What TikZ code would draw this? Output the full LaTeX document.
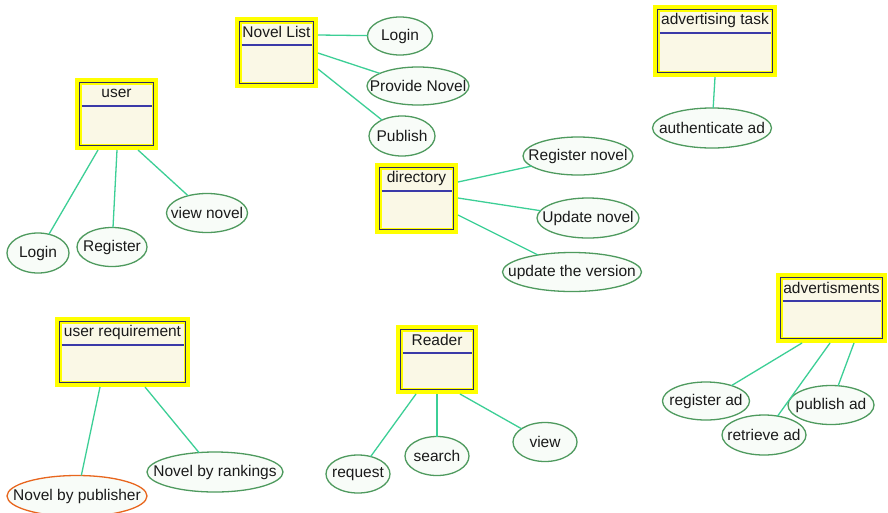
\documentclass[tikz,border=0pt]{standalone}
\usepackage{fontspec}
\setmainfont{Liberation Sans}
\usetikzlibrary{shapes.geometric}
\definecolor{boxyellow}{HTML}{FFFF00}
\definecolor{boxcream}{HTML}{FAF8E6}
\definecolor{boxnavy}{HTML}{2E2E66}
\definecolor{sepblue}{HTML}{3A3AA8}
\definecolor{ucgreen}{HTML}{4E9A5E}
\definecolor{ucfill}{HTML}{F8FCF8}
\definecolor{conngreen}{HTML}{3CCF96}
\definecolor{txt}{HTML}{1A1A1A}
\definecolor{selorange}{HTML}{E8661E}
\tikzset{
  umlbox/.style={rectangle, fill=boxyellow, inner sep=0pt, outer sep=0pt},
  uc/.style={ellipse, draw=ucgreen, fill=ucfill, line width=1.3pt, inner sep=0pt, outer sep=0pt,
    font=\fontsize{15.5}{18}\selectfont, text=txt},
  ucsel/.style={uc, draw=selorange},
  conn/.style={draw=conngreen, line width=1.3pt},
  boxtitle/.style={inner sep=0pt, font=\fontsize{15.5}{18}\selectfont, text=txt},
}
\newcommand{\umlclass}[6]{%
  \node[umlbox, minimum width=#4pt, minimum height=#5pt] (#1) at (#2,#3) {};
  \fill[boxcream] ([shift={(6.5pt,-6.5pt)}]#1.north west) rectangle ([shift={(-6.5pt,6.5pt)}]#1.south east);
  \draw[boxnavy, line width=1.5pt] ([shift={(4.5pt,-4.5pt)}]#1.north west) rectangle ([shift={(-4.5pt,4.5pt)}]#1.south east);
  \draw[sepblue, line width=1.3pt] ([shift={(6.5pt,-28pt)}]#1.north west) -- ([shift={(-6.5pt,-28pt)}]#1.north east);
  \node[boxtitle] (#1-t) at ([yshift=-15pt]#1.north) {#6};
}
\newcommand{\usecase}[7]{%
  \node[#1, minimum width=#5pt, minimum height=#6pt] (#2) at (#3,#4) {\makebox[0pt]{#7}};
}
\begin{document}
\begin{tikzpicture}[x=1pt,y=1pt]
\useasboundingbox[fill=white] (0,0) rectangle (888,-512);

% classes
\umlclass{nl}{276.5}{-52.5}{83}{71}{Novel List}
\umlclass{user}{116.5}{-114}{83}{72}{user}
\umlclass{ureq}{122.5}{-352}{135}{70}{user requirement}
\umlclass{adtask}{715}{-41}{124}{72}{advertising task}
\umlclass{adv}{831.5}{-308}{111}{70}{advertisments}
\umlclass{dir}{416.5}{-198.5}{83}{71}{directory}
\umlclass{reader}{437}{-359.5}{82}{69}{Reader}

% use cases
\usecase{uc}{login1}{400}{-36}{65}{38}{Login}
\usecase{uc}{provide}{418}{-86}{102}{38}{Provide Novel}
\usecase{uc}{publish}{402}{-136}{66}{40}{Publish}
\usecase{uc}{regnovel}{578}{-156}{110}{38}{Register novel}
\usecase{uc}{updnovel}{588}{-218}{102}{40}{Update novel}
\usecase{uc}{updver}{572}{-272}{139}{39}{update the version}
\usecase{uc}{authad}{712}{-128}{119}{40}{authenticate ad}
\usecase{uc}{regad}{706}{-401}{87}{38}{register ad}
\usecase{uc}{pubad}{831}{-405}{86}{39}{publish ad}
\usecase{uc}{retad}{764}{-435}{84}{40}{retrieve ad}
\usecase{ucsel}{nbpub}{77}{-496}{140}{41}{Novel by publisher}
\usecase{uc}{nbrank}{215}{-472}{136}{40}{Novel by rankings}
\usecase{uc}{login2}{38}{-253}{62}{40}{Login}
\usecase{uc}{register}{112}{-247}{70}{39}{Register}
\usecase{uc}{viewnovel}{207}{-213}{81}{39}{view novel}
\usecase{uc}{request}{358}{-474}{64}{38}{request}
\usecase{uc}{search}{437}{-456}{64}{39}{search}
\usecase{uc}{view}{545}{-442}{64}{39}{view}

% connectors
\draw[conn] ([yshift=-18pt]nl.north east) -- (login1);
\draw[conn] ([yshift=-36pt]nl.north east) -- (provide);
\draw[conn] ([yshift=-52pt]nl.north east) -- (publish);
\draw[conn] ([yshift=-19pt]dir.north east) -- (regnovel);
\draw[conn] ([yshift=-35pt]dir.north east) -- (updnovel);
\draw[conn] ([yshift=-52pt]dir.north east) -- (updver);
\draw[conn] ([xshift=23pt]user.south west) -- (login2);
\draw[conn] ([xshift=42pt]user.south west) -- (register);
\draw[conn] ([xshift=63pt]user.south west) -- (viewnovel);
\draw[conn] ([xshift=45pt]ureq.south west) -- (nbpub);
\draw[conn] ([xshift=90pt]ureq.south west) -- (nbrank);
\draw[conn] (adtask.south) -- (authad);
\draw[conn] ([xshift=26pt]adv.south west) -- (regad);
\draw[conn] ([xshift=54pt]adv.south west) -- (retad);
\draw[conn] ([xshift=78pt]adv.south west) -- (pubad);
\draw[conn] ([xshift=20pt]reader.south west) -- (request);
\draw[conn] ([xshift=41pt]reader.south west) -- (search);
\draw[conn] ([xshift=64pt]reader.south west) -- (view);
\end{tikzpicture}
\end{document}
